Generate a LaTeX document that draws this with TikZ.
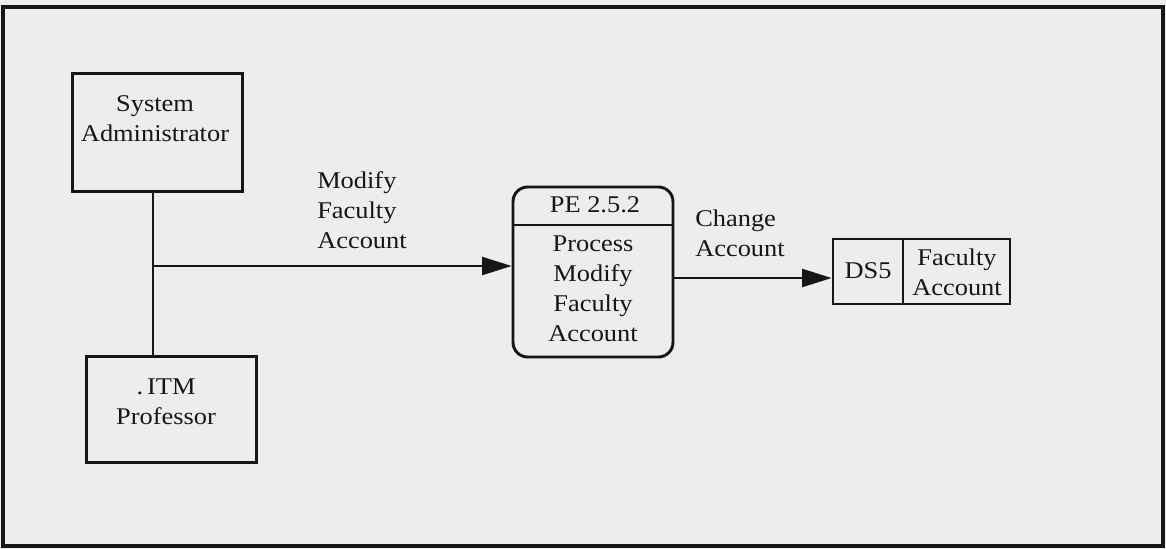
\documentclass[tikz,border=0pt]{standalone}
\usepackage{fontspec}
\setmainfont{Liberation Serif}[FakeStretch=1.1]
\usetikzlibrary{arrows.meta}
\definecolor{bg}{RGB}{236,237,236}
\definecolor{ink}{RGB}{22,22,22}
\tikzset{
  px/.style={x=0.75pt,y=-0.75pt},
  entbox/.style={draw=ink,line width=2.2pt,inner sep=0pt},
  txt/.style={text=ink,font=\fontsize{18}{22.5}\selectfont,inner sep=0pt},
  flow/.style={draw=ink,line width=1.6pt},
  arr/.style={flow,-{Triangle[length=22pt,width=13.5pt]}}
}
\begin{document}
\begin{tikzpicture}[px]
\useasboundingbox (0,0) rectangle (1166,549);
\fill[bg] (0,0) rectangle (1166,549);
\draw[ink,line width=3pt] (3,7) rectangle (1163,546);

% external entities
\node[entbox,minimum width=128pt,minimum height=89pt] (sa) at (157.5,132.5) {};
\node[txt,align=center] (satxt) at (155,119) {System\\Administrator};
\node[entbox,minimum width=128pt,minimum height=80pt] (itm) at (171.5,409.5) {};
\node[txt,align=center] (itmtxt) at (166,402) {.\,ITM\\Professor};

% process
\node[entbox,rounded corners=11pt,minimum width=120pt,minimum height=127.5pt] (proc) at (593,272) {};
\coordinate (pdiv) at (593,225);
\draw[ink,line width=2.2pt] (pdiv -| proc.west) -- (pdiv -| proc.east);
\node[txt] (pid) at (595,205) {PE 2.5.2};
\node[txt,align=center] (ptxt) at (593,289) {Process\\Modify\\Faculty\\Account};

% data store
\node[entbox,minimum width=132.75pt,minimum height=48.75pt] (ds) at (921.5,271.5) {};
\coordinate (dsdiv) at (903,271.5);
\draw[ink,line width=2.2pt] (dsdiv |- ds.north) -- (dsdiv |- ds.south);
\node[txt] (dsid) at (868,271) {DS5};
\node[txt,align=center] (dsname) at (957,272) {Faculty\\Account};

% flows
\coordinate (j) at (153,266);
\draw[flow] (sa.south -| j) -- (itm.north -| j);
\draw[arr] (j) -- (j -| proc.west);
\coordinate (o) at (673,278);
\draw[arr] (o -| proc.east) -- (o -| ds.west);

% flow labels
\node[txt,align=left,anchor=west] (l1) at (317,210) {Modify\\Faculty\\Account};
\node[txt,align=left,anchor=west] (l2) at (695,233) {Change\\Account};
\end{tikzpicture}
\end{document}
